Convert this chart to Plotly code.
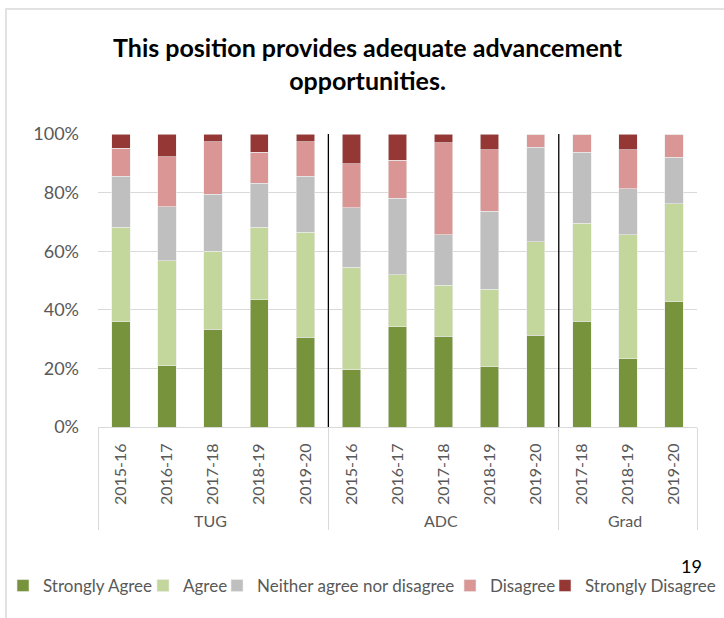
import plotly.graph_objects as go

groups = ["TUG"] * 5 + ["ADC"] * 5 + ["Grad"] * 3
years = ["2015-16", "2016-17", "2017-18", "2018-19", "2019-20",
         "2015-16", "2016-17", "2017-18", "2018-19", "2019-20",
         "2017-18", "2018-19", "2019-20"]

strongly_agree = [36.0, 20.9, 33.3, 43.5, 30.6, 19.6, 34.3, 30.9, 20.5, 31.3, 36.1, 23.3, 42.7]
agree = [32.1, 35.8, 26.6, 24.6, 35.8, 35.0, 17.6, 17.4, 26.6, 32.0, 33.4, 42.3, 33.5]
neither = [17.5, 18.5, 19.5, 15.1, 19.2, 20.2, 26.1, 17.3, 26.5, 32.2, 24.3, 15.7, 15.9]
disagree = [9.6, 17.0, 18.0, 10.6, 11.8, 15.1, 13.0, 31.5, 21.0, 4.5, 6.2, 13.3, 7.9]
strongly_disagree = [4.8, 7.8, 2.6, 6.2, 2.6, 10.1, 9.0, 2.9, 5.4, 0.0, 0.0, 5.4, 0.0]

series = [
    ("Strongly Agree", strongly_agree, "#77933C"),
    ("Agree", agree, "#C3D69B"),
    ("Neither agree nor disagree", neither, "#BFBFBF"),
    ("Disagree", disagree, "#D99694"),
    ("Strongly Disagree", strongly_disagree, "#953735"),
]
# x (px) where each legend entry's text starts, as laid out in the reference
legend_text_x = [43, 183, 257, 490, 585]

FONT = "Lato"
GREY = "#595959"
W, H = 724, 618

fig = go.Figure()
legends = {}
for i, (name, vals, col) in enumerate(series):
    lg = "legend" if i == 0 else f"legend{i + 1}"
    fig.add_trace(go.Bar(
        x=[groups, years], y=[v / 100 for v in vals], name=name,
        marker=dict(color=col, line=dict(color="#EDEDED", width=0.6)),
        width=0.4, legend=lg,
    ))
    legends[lg] = dict(
        xref="container", yref="container",
        x=(legend_text_x[i] - 40) / W, xanchor="left",
        y=1 - 586 / H, yanchor="middle",
        font=dict(family=FONT, size=17, color=GREY),
        bgcolor="rgba(0,0,0,0)", itemwidth=30,
    )

# vertical group separators at category boundaries
n_first = groups.count("TUG")
n_second = groups.count("ADC")
for b in [n_first - 0.5, n_first + n_second - 0.5]:
    fig.add_shape(type="line", xref="x", yref="y", x0=b, x1=b, y0=0, y1=1,
                  line=dict(color="black", width=1.3))

# chart border (plot area: x 98..697, y 134..427 px)
def px_x(p):
    return (p - 98) / 599

def px_y(p):
    return (427 - p) / 293

fig.add_shape(type="rect", xref="paper", yref="paper",
              x0=px_x(6), x1=px_x(760), y0=px_y(660), y1=px_y(9),
              line=dict(color="#D9D9D9", width=1.5), layer="below")

fig.add_annotation(text="19", xref="paper", yref="paper", x=px_x(691), y=px_y(566),
                   showarrow=False, font=dict(family=FONT, size=18, color="black"),
                   xanchor="center", yanchor="middle")

fig.update_layout(
    width=W, height=H,
    margin=dict(l=98, r=27, t=134, b=191, autoexpand=False),
    barmode="stack",
    plot_bgcolor="white", paper_bgcolor="white",
    font=dict(family=FONT, size=16, color=GREY),
    title=dict(text="<b>This position provides adequate advancement<br>opportunities.</b>",
               xref="container", yref="container",
               x=367.5 / W, xanchor="center", y=1 - 57 / H, yanchor="middle",
               font=dict(family=FONT, size=25, color="black")),
    xaxis=dict(type="multicategory", tickangle=-90, showline=True, linecolor="#D9D9D9",
               linewidth=1, showgrid=False, dividercolor="#D9D9D9", dividerwidth=1,
               tickfont=dict(family=FONT, size=16, color=GREY), ticks="",
               automargin=False, ticklabelstandoff=9),
    yaxis=dict(range=[0, 1], tickvals=[0, 0.2, 0.4, 0.6, 0.8, 1.0], tickformat=".0%",
               showgrid=True, gridcolor="#D9D9D9", gridwidth=1, zeroline=False,
               tickfont=dict(family=FONT, size=18, color=GREY), ticks="",
               automargin=False, ticklabelstandoff=18),
    showlegend=True,
    **legends,
)

fig.write_html("out.html", config={"displayModeBar": False},
               post_script="document.body.style.margin='0px';")
